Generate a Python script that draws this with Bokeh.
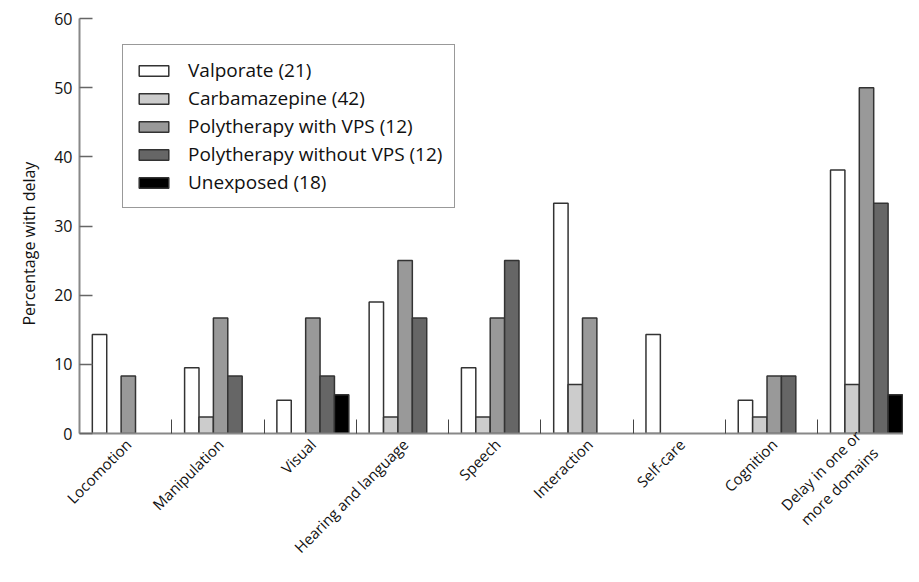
import math
from bokeh.plotting import figure
from bokeh.models import ColumnDataSource, Range1d, FixedTicker, Legend, LegendItem, Title
from bokeh.embed import file_html
from bokeh.resources import INLINE

categories = ["Locomotion", "Manipulation", "Visual", "Hearing and language", "Speech",
              "Interaction", "Self-care", "Cognition", "Delay in one or\nmore domains"]
series_names = ["Valporate (21)", "Carbamazepine (42)", "Polytherapy with VPS (12)",
                "Polytherapy without VPS (12)", "Unexposed (18)"]
valproate = [14.3, 9.5, 4.8, 19.0, 9.5, 33.3, 14.3, 4.8, 38.1]
carbamazepine = [0, 2.4, 0, 2.4, 2.4, 7.1, 0, 2.4, 7.1]
poly_with_vps = [8.3, 16.7, 16.7, 25.0, 16.7, 16.7, 0, 8.3, 50.0]
poly_without_vps = [0, 8.3, 8.3, 16.7, 25.0, 0, 0, 8.3, 33.3]
unexposed = [0, 0, 5.6, 0, 0, 0, 0, 0, 5.6]
y_ticks = [0, 10, 20, 30, 40, 50, 60]

series_values = [valproate, carbamazepine, poly_with_vps, poly_without_vps, unexposed]
colors = ["#ffffff", "#cccccc", "#999999", "#666666", "#000000"]

FONT = "Open Sans"
bar_w = 0.156
shift = 0.029

p = figure(width=903, height=566, output_backend="svg", toolbar_location=None,
           x_range=Range1d(0, 8.93), y_range=Range1d(0, 60),
           min_border_left=79, min_border_right=0, min_border_top=18, min_border_bottom=128)
p.outline_line_color = None
p.xgrid.visible = False
p.ygrid.visible = False
p.background_fill_color = "white"

items = []
for k, (name, vals, col) in enumerate(zip(series_names, series_values, colors)):
    xs = [i + 0.5 + shift + (k - 2) * bar_w for i in range(len(categories))]
    tops = [v if v > 0 else float("nan") for v in vals]
    src = ColumnDataSource(dict(x=xs, top=tops))
    r = p.vbar(x="x", top="top", bottom=0, width=bar_w, source=src,
               fill_color=col, line_color="#333333", line_width=1.5)
    items.append(LegendItem(label=name, renderers=[r]))

legend = Legend(items=items, location=(43, 225), margin=0, padding=12, spacing=2,
                glyph_width=37, glyph_height=13, label_standoff=16,
                label_text_font=FONT, label_text_font_size="19px", label_text_color="#111111",
                border_line_color="#333333", border_line_width=1,
                background_fill_alpha=1.0)
p.add_layout(legend, "center")

# x axis
centers = [i + 0.5 + shift for i in range(len(categories))]
bounds = [float(i) for i in range(1, len(categories))]
p.xaxis.ticker = FixedTicker(ticks=centers, minor_ticks=bounds)
p.xaxis.major_label_overrides = {c: lab for c, lab in zip(centers, categories)}
p.xaxis.major_label_orientation = math.pi / 4
p.xaxis.major_tick_in = 0
p.xaxis.major_tick_out = 0
p.xaxis.minor_tick_in = 14
p.xaxis.minor_tick_out = 0
p.xaxis.minor_tick_line_color = "#444444"
p.xaxis.minor_tick_line_width = 1
p.xaxis.axis_line_color = "#888888"
p.xaxis.axis_line_width = 2
p.xaxis.major_label_text_font = FONT
p.xaxis.major_label_text_font_size = "15px"
p.xaxis.major_label_text_color = "#111111"
p.xaxis.major_label_standoff = 8

# y axis
p.yaxis.ticker = FixedTicker(ticks=y_ticks)
p.yaxis.minor_tick_line_color = None
p.yaxis.major_tick_in = 13
p.yaxis.major_tick_out = 0
p.yaxis.major_tick_line_color = "#666666"
p.yaxis.major_tick_line_width = 1.5
p.yaxis.axis_line_color = "#888888"
p.yaxis.axis_line_width = 2
p.yaxis.major_label_text_font = FONT
p.yaxis.major_label_text_font_size = "16px"
p.yaxis.major_label_text_color = "#111111"
p.yaxis.major_label_standoff = 7

ylab = Title(text="Percentage with delay", align="left", vertical_align="top",
             offset=108, standoff=20,
             text_font=FONT, text_font_size="16px", text_font_style="normal",
             text_color="#111111")
p.add_layout(ylab, "left")

open("out.html", "w").write(file_html(p, INLINE))
